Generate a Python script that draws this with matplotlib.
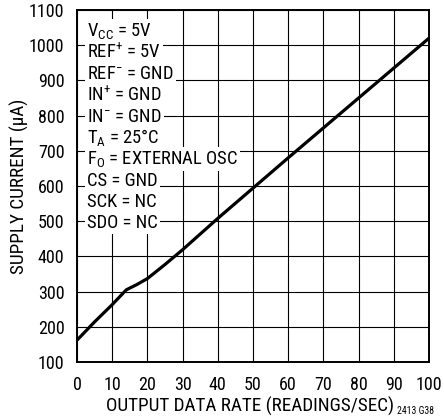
import matplotlib
matplotlib.use('Agg')
import matplotlib.pyplot as plt

# rate (readings/sec) vs supply current (uA)
rate = [0, 5, 10, 14, 17, 20, 25, 30, 40, 50, 60, 70, 80, 90, 100]
current = [162, 214, 263, 305, 320, 337, 377, 419, 508, 594, 680, 765, 850, 935, 1020]

x_ticks = list(range(0, 101, 10))
y_ticks = list(range(100, 1101, 100))

conditions = [r'V$_{\mathrm{CC}}$ = 5V',
              r'REF$^{+}$ = 5V',
              r'REF$^{-}$ = GND',
              r'IN$^{+}$ = GND',
              r'IN$^{-}$ = GND',
              r'T$_{\mathrm{A}}$ = 25°C',
              r'F$_{\mathrm{O}}$ = EXTERNAL OSC',
              'CS = GND',
              'SCK = NC',
              'SDO = NC']

fam = 'Roboto Condensed'
plt.rcParams['font.family'] = [fam, 'DejaVu Sans']
plt.rcParams['mathtext.fontset'] = 'custom'
plt.rcParams['mathtext.rm'] = fam
plt.rcParams['mathtext.it'] = fam
plt.rcParams['mathtext.bf'] = fam

fig = plt.figure(figsize=(4.44, 4.19), dpi=100)
ax = fig.add_axes([77/444, 57/419, 352/444, 352/419])

ax.plot(rate, current, color='black', lw=2.3, solid_capstyle='butt',
        solid_joinstyle='round', zorder=3)

ax.set_xlim(0, 100)
ax.set_ylim(100, 1100)
ax.set_xticks(x_ticks)
ax.set_yticks(y_ticks)
ax.tick_params(length=0, labelsize=13)
ax.tick_params(axis='x', pad=10)
ax.tick_params(axis='y', pad=9)
ax.grid(True, color='black', lw=0.8)
for s in ax.spines.values():
    s.set_linewidth(1.4)

ax.set_ylabel('SUPPLY CURRENT (µA)', fontsize=13.8)
ax.yaxis.set_label_coords(-0.137, 0.5)
ax.set_xlabel('OUTPUT DATA RATE (READINGS/SEC)', fontsize=13.8)
ax.xaxis.set_label_coords(0.493, -0.099)
fig.text(0.977, 0.012, '2413 G38', fontsize=7, ha='right', va='baseline')

for i, t in enumerate(conditions):
    ax.text(2.8, 1039 - i * 60.5, t, fontsize=13.4, va='center', ha='left', zorder=4,
            bbox=dict(facecolor='white', edgecolor='none', pad=1.5))

fig.savefig('out.png', dpi=100)
